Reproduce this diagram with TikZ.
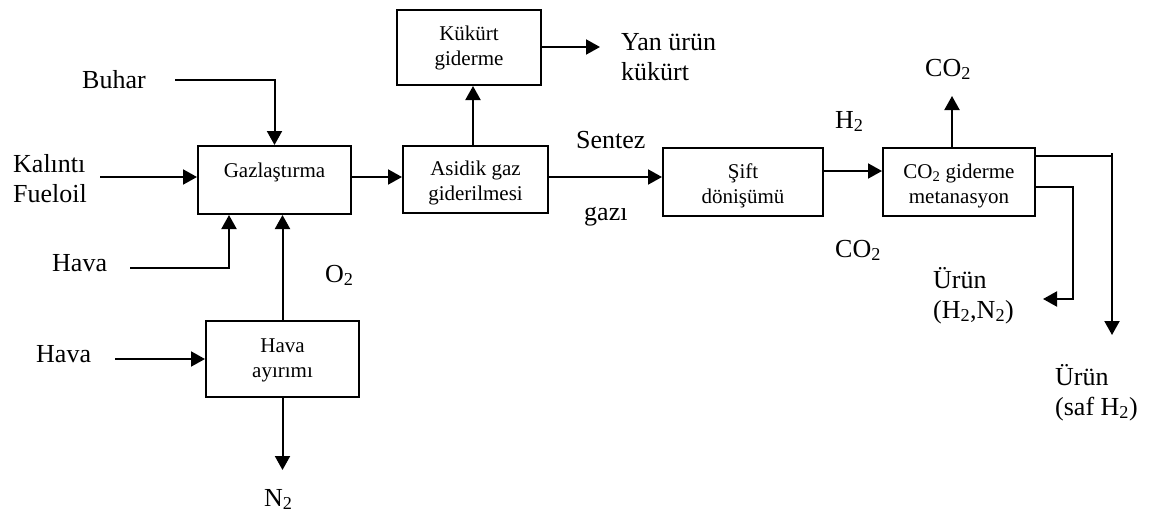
\documentclass[tikz,border=0pt]{standalone}
\usepackage{fontspec}
\setmainfont{Liberation Serif}
\usetikzlibrary{arrows.meta}

\begin{document}
\begin{tikzpicture}[x=1pt,y=-1pt,
  unit/.style={draw, line width=2pt, inner sep=0pt},
  boxtxt/.style={anchor=base, inner sep=0pt, align=center,
                 font=\fontsize{21pt}{25pt}\selectfont},
  lbl/.style={anchor=base west, inner sep=0pt, align=left,
              font=\fontsize{26pt}{30pt}\selectfont},
  flow/.style={line width=2pt, -{Triangle[length=14pt,width=15pt]}},
  pipe/.style={line width=2pt}]
\useasboundingbox (0,0) rectangle (1157,514);

% process units
\node[unit, minimum width=153pt, minimum height=68pt] (gaz) at (274.5,180) {};
\node[unit, minimum width=153pt, minimum height=76pt] (hay) at (282.5,359) {};
\node[unit, minimum width=145pt, minimum height=67pt] (asd) at (475.5,179.5) {};
\node[unit, minimum width=144pt, minimum height=75pt] (kuk) at (469,47.5) {};
\node[unit, minimum width=160pt, minimum height=68pt] (sft) at (743,182) {};
\node[unit, minimum width=152pt, minimum height=68pt] (met) at (959,182) {};

% unit captions (multi-line nodes are placed by the baseline of their last line)
\node[boxtxt] (gaz-t) at (274.5,177) {Gazlaştırma};
\node[boxtxt] (hay-t) at (282.5,377) {Hava\\ayırımı};
\node[boxtxt] (asd-t) at (475.5,200) {Asidik gaz\\giderilmesi};
\node[boxtxt] (kuk-t) at (469,65) {Kükürt\\giderme};
\node[boxtxt] (sft-t) at (743,203) {Şift\\dönişümü};
\node[boxtxt] (met-t) at (959,203) {CO\textsubscript{2} giderme\\metanasyon};

% stream labels
\node[lbl] (buhar) at (82,88) {Buhar};
\node[lbl] (kalinti) at (13,202) {Kalıntı\\Fueloil};
\node[lbl] (hava1) at (52,271) {Hava};
\node[lbl] (o2) at (325,282) {O\textsubscript{2}};
\node[lbl] (hava2) at (36,362) {Hava};
\node[lbl] (n2) at (264,506) {N\textsubscript{2}};
\node[lbl] (yan) at (621,80) {Yan ürün\\kükürt};
\node[lbl] (sentez) at (576,148) {Sentez};
\node[lbl] (gazi) at (584,220) {gazı};
\node[lbl] (h2) at (835,128) {H\textsubscript{2}};
\node[lbl] (co2a) at (925,76) {CO\textsubscript{2}};
\node[lbl] (co2b) at (835,257) {CO\textsubscript{2}};
\node[lbl] (urun1) at (933,318) {Ürün\\(H\textsubscript{2},N\textsubscript{2})};
\node[lbl] (urun2) at (1055,415) {Ürün\\(saf H\textsubscript{2})};

% free ends of the streams
\coordinate (buhar-s) at (175,80);
\coordinate (kal-s) at (100,177);
\coordinate (hava1-s) at (130,268);
\coordinate (hava1-x) at (229,0);
\coordinate (hava2-s) at (115,359);
\coordinate (n2-e) at (282.5,470);
\coordinate (yan-e) at (600,47);
\coordinate (co2-e) at (952,96);
\coordinate (y1) at (0,177);
\coordinate (y2) at (0,171);
\coordinate (xk) at (473,0);
\coordinate (p1) at (1112,156);
\coordinate (p1-top) at (1112,153);
\coordinate (p1-e) at (1112,335);
\coordinate (p2) at (1073,187);
\coordinate (p2-c) at (1073,299);
\coordinate (p2-e) at (1043,299);

% feeds to gasification
\draw[flow] (buhar-s) -| (gaz.north);
\draw[flow] (kal-s) -- (gaz.west |- kal-s);
\draw[flow] (hava1-s) -| (hava1-x |- gaz.south);
\draw[flow] (hay.north) -- (hay.north |- gaz.south);
\draw[flow] (hava2-s) -- (hay.west);
\draw[flow] (hay.south) -- (n2-e);

% main line
\draw[flow] (gaz.east |- y1) -- (asd.west |- y1);
\draw[flow] (xk |- asd.north) -- (xk |- kuk.south);
\draw[flow] (kuk.east |- yan-e) -- (yan-e);
\draw[flow] (asd.east |- y1) -- (sft.west |- y1);
\draw[flow] (sft.east |- y2) -- (met.west |- y2);
\draw[flow] (co2-e |- met.north) -- (co2-e);

% products
\draw[pipe] (met.east |- p1) -- (p1);
\draw[flow] (p1-top) -- (p1-e);
\draw[flow] (met.east |- p2) -- (p2) -- (p2-c) -- (p2-e);
\end{tikzpicture}
\end{document}
